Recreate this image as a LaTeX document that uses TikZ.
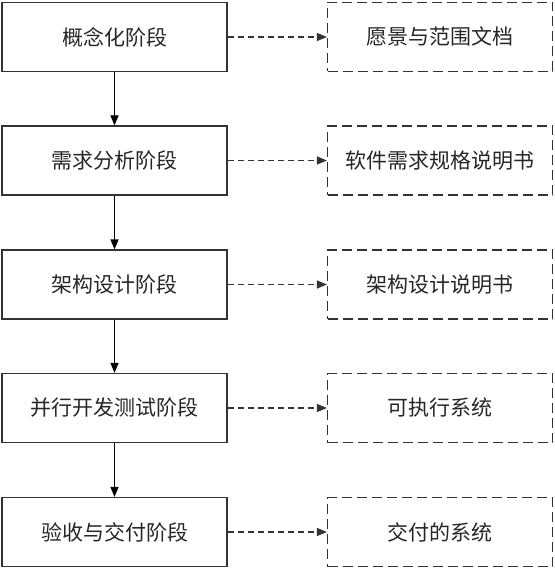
\documentclass[tikz,border=0pt]{standalone}
\usepackage{fontspec}
\setmainfont{Noto Sans CJK SC}
\usetikzlibrary{arrows.meta}
\begin{document}
\begin{tikzpicture}[x=1pt,y=-1pt,
  stagebox/.style={draw=black!80,line width=1.2pt,minimum width=225pt,minimum height=69pt,inner sep=0pt,font=\fontsize{21}{24}\selectfont,text=black!85},
  docbox/.style={stagebox,dash pattern=on 10pt off 5pt,minimum width=225pt},
  flow/.style={draw=black,line width=1.2pt,-{Triangle[length=10pt,width=8pt]}},
  outarrow/.style={draw=black!80,line width=1.2pt,dash pattern=on 6pt off 4pt,-{Triangle[length=10pt,width=8pt]}}]
\useasboundingbox (0,0) rectangle (554,569);
\node[stagebox] (s1) at (114.5,37) {概念化阶段};
\node[stagebox] (s2) at (114.5,160.5) {需求分析阶段};
\node[stagebox] (s3) at (114.5,284.5) {架构设计阶段};
\node[stagebox] (s4) at (114.5,408) {并行开发测试阶段};
\node[stagebox] (s5) at (114.5,532) {验收与交付阶段};
\node[docbox] (d1) at (440,37) {愿景与范围文档};
\node[docbox] (d2) at (440,160.5) {软件需求规格说明书};
\node[docbox] (d3) at (440,284.5) {架构设计说明书};
\node[docbox] (d4) at (440,408) {可执行系统};
\node[docbox] (d5) at (440,532) {交付的系统};
\foreach \a/\b in {s1/s2,s2/s3,s3/s4,s4/s5} \draw[flow] (\a) -- (\b);
\foreach \i in {1,...,5} \draw[outarrow] (s\i) -- (d\i);
\end{tikzpicture}
\end{document}
